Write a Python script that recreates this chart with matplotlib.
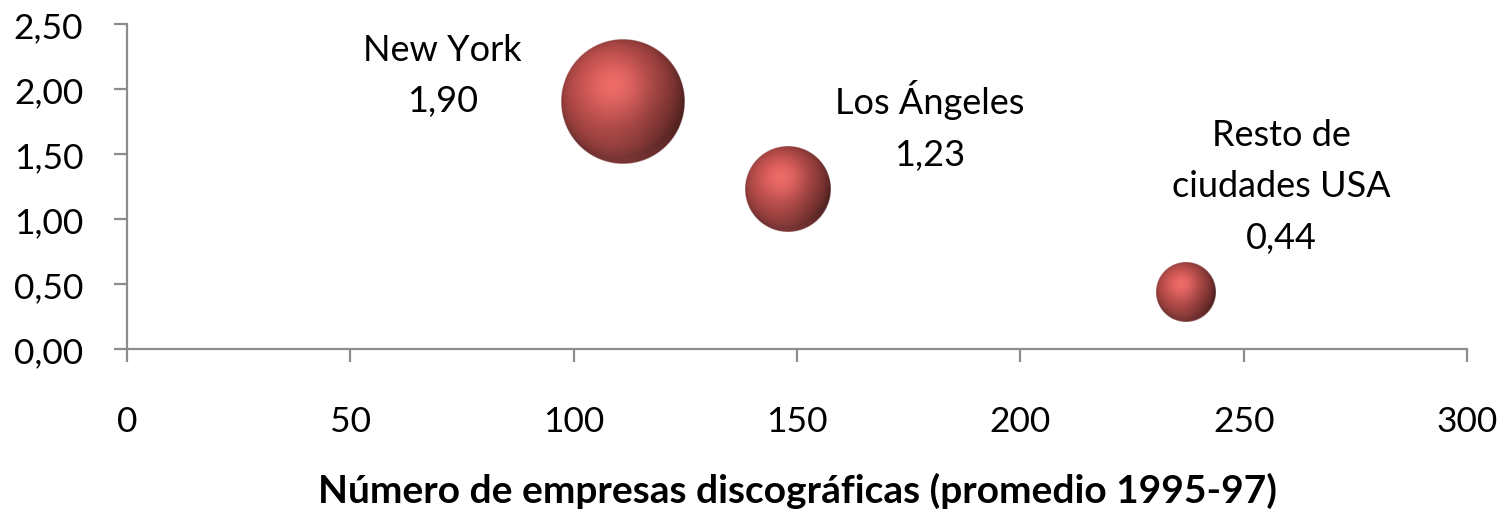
import numpy as np
import matplotlib
matplotlib.use("Agg")
import matplotlib.pyplot as plt

# Data
cities = ["New York", "Los Ángeles", "Resto de\nciudades USA"]
n_labels = [111, 148, 237]          # número de empresas discográficas
ratio = [1.90, 1.23, 0.44]          # valor del eje vertical
bubble_size = [100, 48, 23]         # tamaño relativo de la burbuja
label_offsets_px = [(-180, 27), (142, 64), (96, 106)]

x_ticks = [0, 50, 100, 150, 200, 250, 300]
y_ticks = [0.0, 0.5, 1.0, 1.5, 2.0, 2.5]

plt.rcParams["font.family"] = ["Lato", "DejaVu Sans"]

W, H, DPI = 15.04, 5.10, 100
fig = plt.figure(figsize=(W, H), dpi=DPI)
ax = fig.add_axes([127 / 1504, 1 - 350 / 510, (1467 - 127) / 1504, (350 - 25) / 510])
ax.set_xlim(0, 300)
ax.set_ylim(0, 2.5)

axis_gray = "#8c8c8c"
for side in ("top", "right"):
    ax.spines[side].set_visible(False)
for side in ("left", "bottom"):
    ax.spines[side].set_color(axis_gray)
    ax.spines[side].set_linewidth(1.6)

ax.set_xticks(x_ticks)
ax.set_yticks(y_ticks)
ax.set_xticklabels([str(t) for t in x_ticks])
ax.set_yticklabels([f"{t:.2f}".replace(".", ",") for t in y_ticks])
ax.tick_params(axis="both", direction="out", length=9.5, width=1.6, color=axis_gray,
               labelsize=25.5, labelcolor="black")
ax.tick_params(axis="x", pad=31)
ax.tick_params(axis="y", pad=22)

ax.set_xlabel("Número de empresas discográficas (promedio 1995-97)",
              fontsize=28, fontweight="bold")
ax.xaxis.set_label_coords(0.5, -0.434)
ax.xaxis.label.set_verticalalignment("center")

# Sphere shading texture
N = 400
g = np.linspace(-1, 1, N)
X, Y = np.meshgrid(g, -g)
R2 = X**2 + Y**2
Z = np.sqrt(np.clip(1 - R2, 0, 1))


def lobe(v, p=1.0):
    v = np.asarray(v, float)
    v = v / np.linalg.norm(v)
    return np.clip(X * v[0] + Y * v[1] + Z * v[2], 0, 1) ** p


base = np.array([192, 80, 77]) / 255.0
Lk = np.array([-0.2, 0.45, 0.87]); Lk /= np.linalg.norm(Lk)
key = lobe(Lk)
fill = lobe([-0.9, -0.1, 0.45])
floor = lobe([0.05, -1.0, 0.3], 3)
spec = lobe(Lk + np.array([0, 0, 1.0]), 8)

shade = 0.42 + 0.55 * key + 0.12 * fill
rgb = base[None, None, :] * shade[..., None]
rgb += 0.16 * spec[..., None] * np.array([1.0, 0.62, 0.62])
rgb += 0.14 * floor[..., None] * np.array([1.0, 0.5, 0.5])
rgb = np.clip(rgb, 0, 1)
edge = np.sqrt(R2)
alpha = np.clip((1 - edge) * N / 2.0, 0, 1)
tex = np.dstack([rgb, alpha])

# Bubble radius in pixels scales with sqrt of the bubble size (area encoding)
max_radius_px = 62.0
fig.canvas.draw()
bbox = ax.get_window_extent()
px_per_x = bbox.width / (ax.get_xlim()[1] - ax.get_xlim()[0])
px_per_y = bbox.height / (ax.get_ylim()[1] - ax.get_ylim()[0])
smax = max(bubble_size)
for xv, yv, s in zip(n_labels, ratio, bubble_size):
    r = max_radius_px * np.sqrt(s / smax)
    dx, dy = r / px_per_x, r / px_per_y
    ax.imshow(tex, extent=(xv - dx, xv + dx, yv - dy, yv + dy), origin="upper",
              interpolation="bilinear", zorder=3, aspect="auto")

ax.set_xlim(0, 300)
ax.set_ylim(0, 2.5)

for name, xv, yv, (ox, oy) in zip(cities, n_labels, ratio, label_offsets_px):
    ax.annotate(f"{name}\n{yv:.2f}".replace(".", ","), xy=(xv, yv),
                xytext=(ox, oy), textcoords="offset pixels",
                ha="center", va="center", fontsize=26, linespacing=1.68,
                annotation_clip=False, zorder=4)

fig.savefig("out.png", dpi=DPI)
